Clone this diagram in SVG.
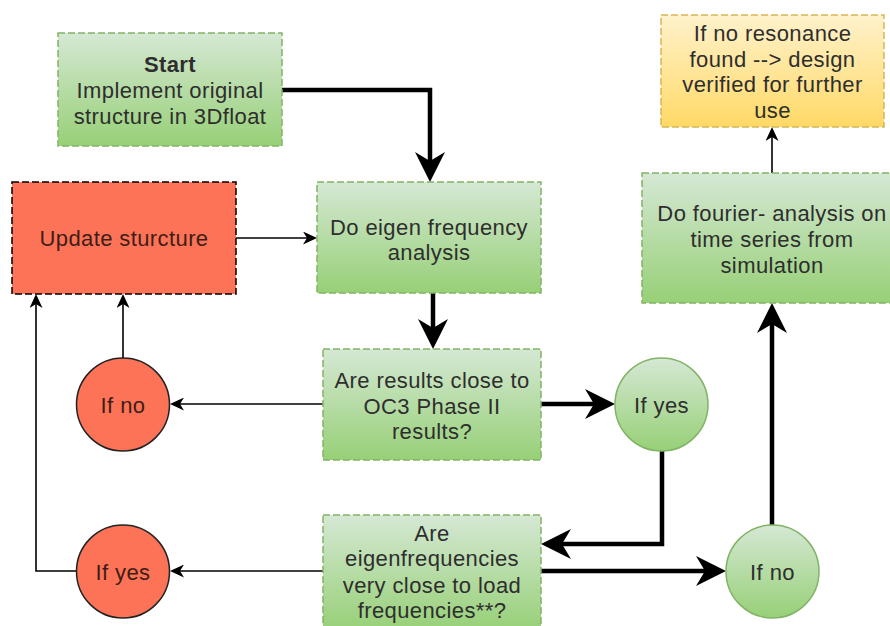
<svg xmlns="http://www.w3.org/2000/svg" width="890" height="626" viewBox="0 0 890 626">
<defs>
<linearGradient id="gGreen" x1="0" y1="0" x2="0" y2="1"><stop offset="0" stop-color="#d5e8d4"/><stop offset="1" stop-color="#97d077"/></linearGradient>
<linearGradient id="gYellow" x1="0" y1="0" x2="0" y2="1"><stop offset="0" stop-color="#fff2cc"/><stop offset="1" stop-color="#ffd966"/></linearGradient>
<marker id="big" markerUnits="userSpaceOnUse" markerWidth="30" markerHeight="30" viewBox="0 0 30 30" refX="20" refY="15" orient="auto"><path d="M0,0 L30,15 L0,30 L9,15 Z" fill="#000"/></marker>
<marker id="small" markerUnits="userSpaceOnUse" markerWidth="14" markerHeight="13" viewBox="0 0 14 13" refX="9" refY="6.5" orient="auto"><path d="M0,0 L14,6.5 L0,13 L4,6.5 Z" fill="#000"/></marker>
</defs>
<style>
.gbox{fill:url(#gGreen);stroke:#82b366;stroke-width:1.5;stroke-dasharray:7 3}
.ybox{fill:url(#gYellow);stroke:#d6b656;stroke-width:1.5;stroke-dasharray:7 3}
.rbox{fill:#fd7357;stroke:#000;stroke-width:1.5;stroke-dasharray:7 3}
.gcirc{fill:url(#gGreen);stroke:#82b366;stroke-width:1.5}
.rcirc{fill:#fd7357;stroke:#222;stroke-width:1.5}
text{font-family:"Liberation Sans",Arial,Helvetica,sans-serif;font-size:22px;letter-spacing:0.4px;fill:#2e2e2e;text-anchor:middle}
.b{font-weight:bold}
.rt{fill:#3f1d16}
.thick{fill:none;stroke:#000;stroke-width:4.5;marker-end:url(#big)}
.thin{fill:none;stroke:#000;stroke-width:1.6;marker-end:url(#small)}
</style>
<g id="connectors">
<path class="thick" d="M282,90 H430 V172"/>
<path class="thin" d="M236,238 H312"/>
<path class="thick" d="M433,293 V339"/>
<path class="thin" d="M323,404 H175"/>
<path class="thin" d="M123,358 V299"/>
<path class="thin" d="M323,571 H175"/>
<path class="thin" d="M77,571 H36 V299"/>
<path class="thick" d="M541,404 H605"/>
<path class="thick" d="M662,451 V544 H551"/>
<path class="thick" d="M541,571 H716"/>
<path class="thick" d="M772,525 V313"/>
<path class="thin" d="M772,173 V132"/>
</g>
<g id="start">
<rect class="gbox" x="58" y="33" width="224" height="113"/>
<text x="170" y="72" class="b">Start</text>
<text x="170" y="98">Implement original</text>
<text x="170" y="124">structure in 3Dfloat</text>
</g>
<g id="update">
<rect class="rbox" x="12" y="182" width="224" height="112"/>
<text x="124" y="246" class="rt">Update sturcture</text>
</g>
<g id="eigen">
<rect class="gbox" x="317" y="182" width="224" height="111"/>
<text x="429" y="235">Do eigen frequency</text>
<text x="429" y="260">analysis</text>
</g>
<g id="q1">
<rect class="gbox" x="323" y="349" width="218" height="111"/>
<text x="432" y="388">Are results close to</text>
<text x="432" y="414">OC3 Phase II</text>
<text x="432" y="439">results?</text>
</g>
<g id="q2">
<rect class="gbox" x="323" y="515" width="218" height="116"/>
<text x="432" y="541">Are</text>
<text x="432" y="566">eigenfrequencies</text>
<text x="432" y="593">very close to load</text>
<text x="432" y="618">frequencies**?</text>
</g>
<g id="redno">
<circle class="rcirc" cx="123" cy="404.5" r="46.5"/>
<text x="123" y="412.5" class="rt">If no</text>
</g>
<g id="redyes">
<circle class="rcirc" cx="123" cy="571.5" r="46.5"/>
<text x="123" y="579.5" class="rt">If yes</text>
</g>
<g id="greenyes">
<circle class="gcirc" cx="661.5" cy="404.5" r="46.5"/>
<text x="661.5" y="412.5">If yes</text>
</g>
<g id="greenno">
<circle class="gcirc" cx="772.5" cy="571.5" r="46.5"/>
<text x="772.5" y="579.5">If no</text>
</g>
<g id="fourier">
<rect class="gbox" x="642" y="173" width="262" height="130"/>
<text x="772" y="221">Do fourier- analysis on</text>
<text x="772" y="247">time series from</text>
<text x="772" y="273">simulation</text>
</g>
<g id="result">
<rect class="ybox" x="661" y="15" width="223" height="112"/>
<text x="772.5" y="41">If no resonance</text>
<text x="772.5" y="67">found --&gt; design</text>
<text x="772.5" y="92">verified for further</text>
<text x="772.5" y="118">use</text>
</g>
</svg>
